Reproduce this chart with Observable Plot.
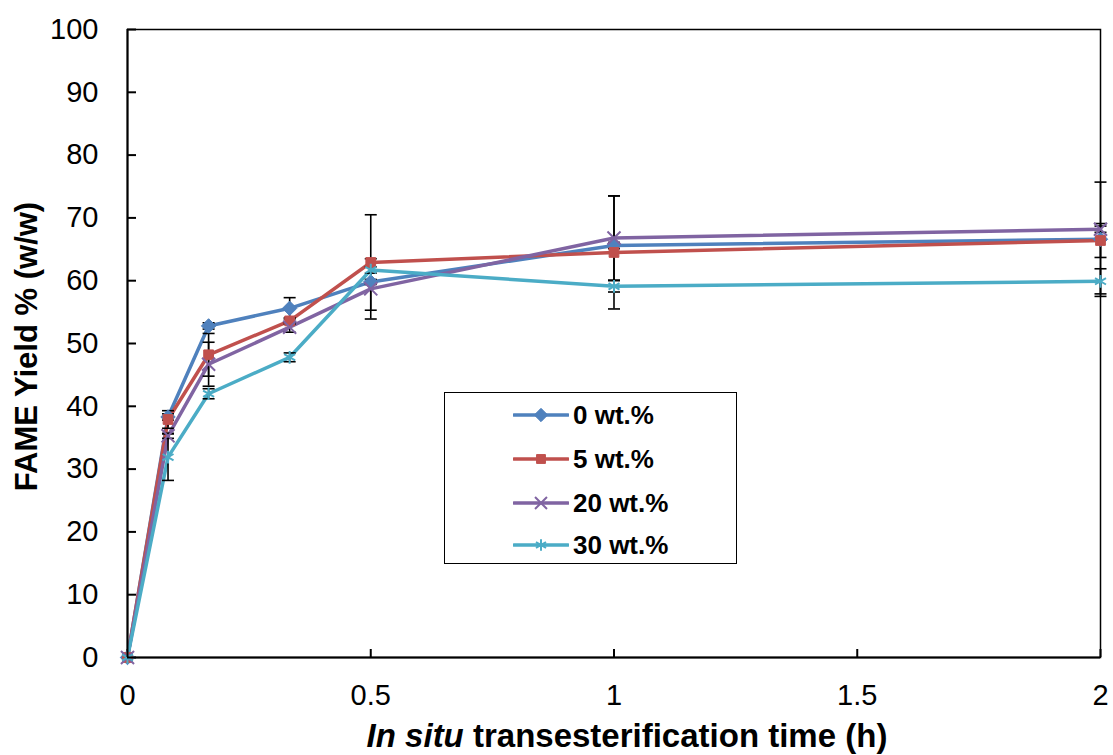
<!DOCTYPE html>
<html><head><meta charset="utf-8">
<script src="https://cdn.jsdelivr.net/npm/d3@7"></script>
<script src="https://cdn.jsdelivr.net/npm/@observablehq/plot@0.6"></script>
<style>
body{margin:0;background:#fff;font-family:"Liberation Sans",Arial,sans-serif;}
#wrap{position:relative;width:1113px;height:755px;overflow:hidden;}
#xtitle{position:absolute;left:0;top:717px;width:1254px;text-align:center;font-weight:bold;font-size:33px;line-height:38px;color:#000;white-space:nowrap;}
#legend{position:absolute;left:444px;top:392px;width:291px;height:170px;border:1.5px solid #000;background:#fff;}
.row{position:absolute;left:68px;height:30px;display:flex;align-items:center;font-weight:bold;font-size:26px;color:#000;white-space:nowrap;}
.row svg{margin-right:4px;}
</style></head><body><div id="wrap"></div>
<script>
const times = [0, 0.0833, 0.1667, 0.3333, 0.5, 1, 2];
const seriesNames = ["0 wt.%", "5 wt.%", "20 wt.%", "30 wt.%"];
const yield0 = [0, 38.3, 52.8, 55.6, 59.8, 65.6, 66.6];
const yield5 = [0, 37.9, 48.2, 53.6, 62.9, 64.5, 66.4];
const yield20 = [0, 35.3, 46.7, 52.6, 58.7, 66.8, 68.2];
const yield30 = [0, 31.9, 42.0, 47.8, 61.7, 59.1, 59.9];
const err0 = [0, 0.5, 0.5, 1.7, 0.4, 0.5, 9.1];
const err5 = [0, 1.4, 3.4, 0.5, 7.6, 9.0, 2.7];
const err20 = [0, 0.4, 3.5, 0.8, 4.8, 6.7, 0.5];
const err30 = [0, 3.7, 0.8, 0.7, 0.5, 0.9, 2.0];
const colors = ["#4F81BD", "#C0504D", "#8064A2", "#4BACC6"];
const symbols = ["diamond2", "square", "times", "asterisk"];
const xTicks = [0, 0.5, 1, 1.5, 2];
const yTicks = [0, 10, 20, 30, 40, 50, 60, 70, 80, 90, 100];
const yTitle = "FAME Yield % (w/w)";

const yields = [yield0, yield5, yield20, yield30];
const errs = [err0, err5, err20, err30];
const rows = [];
seriesNames.forEach((s, i) => times.forEach((t, j) => rows.push({s, i, t, v: yields[i][j], e: errs[i][j]})));

const W = 1113, H = 712, mL = 127, mR = 13, mT = 29, mB = 55;
const capSymbol = {draw(ctx, size) { const r = Math.sqrt(size / Math.PI); ctx.moveTo(-r, 0); ctx.lineTo(r, 0); }};
const markerR = [6.5, 5.5, 6, 6];

const marks = [
  Plot.frame({stroke: "#000", strokeWidth: 1.5}),
  Plot.tickY(yTicks, {y: d => d, insetRight: (W - mL - mR) - 9, strokeWidth: 2, stroke: "#000"}),
  Plot.tickX(xTicks, {x: d => d, insetTop: (H - mT - mB) - 8, strokeWidth: 2, stroke: "#000"}),
  Plot.axisY(yTicks, {tickSize: 0, tickPadding: 29, tickFormat: d => String(d), label: null, fontSize: 29}),
  Plot.axisX(xTicks, {tickSize: 0, tickPadding: 27, tickFormat: d => String(d), label: null, fontSize: 29}),
];
seriesNames.forEach((s, i) => {
  marks.push(Plot.line(rows.filter(d => d.i === i), {x: "t", y: "v", stroke: colors[i], strokeWidth: 3.5}));
});
const eb = rows.filter(d => d.e > 0);
marks.push(Plot.ruleX(eb, {x: "t", y1: d => d.v - d.e, y2: d => d.v + d.e, stroke: "#000", strokeWidth: 1.6}));
marks.push(Plot.dot(eb, {x: "t", y: d => d.v - d.e, symbol: capSymbol, r: 6, stroke: "#000", strokeWidth: 1.6, fill: "none"}));
marks.push(Plot.dot(eb, {x: "t", y: d => d.v + d.e, symbol: capSymbol, r: 6, stroke: "#000", strokeWidth: 1.6, fill: "none"}));
seriesNames.forEach((s, i) => {
  const data = rows.filter(d => d.i === i);
  const stroked = symbols[i] === "times" || symbols[i] === "asterisk";
  marks.push(Plot.dot(data, {x: "t", y: "v", symbol: symbols[i], r: markerR[i],
    fill: stroked ? "none" : colors[i], stroke: colors[i], strokeWidth: stroked ? 2 : 1}));
});
marks.push(Plot.ruleX([0], {stroke: "#000", strokeWidth: 2}));
marks.push(Plot.ruleY([0], {stroke: "#000", strokeWidth: 2}));
marks.push(Plot.text([yTitle], {frameAnchor: "left", dx: -100, dy: 3, rotate: -90, textAnchor: "middle", fontWeight: "bold", fontSize: 31, fill: "#000"}));

const plot = Plot.plot({
  width: W, height: H,
  marginLeft: mL, marginRight: mR, marginTop: mT, marginBottom: mB,
  x: {domain: [0, 2]},
  y: {domain: [0, 100]},
  style: {fontFamily: "'Liberation Sans', Arial, sans-serif", color: "#000", background: "transparent", overflow: "visible"},
  marks
});
const wrap = document.getElementById("wrap");
wrap.appendChild(plot);

const xt = document.createElement("div");
xt.id = "xtitle";
xt.innerHTML = "<i>In situ</i> transesterification time (h)";
wrap.appendChild(xt);

const leg = document.createElement("div");
leg.id = "legend";
const rowTops = [7, 51, 95, 137];
const symMap = {diamond2: d3.symbolDiamond2, square: d3.symbolSquare, times: d3.symbolTimes, asterisk: d3.symbolAsterisk};
seriesNames.forEach((s, i) => {
  const r = document.createElement("div");
  r.className = "row";
  r.style.top = rowTops[i] + "px";
  const svg = d3.create("svg").attr("width", 56).attr("height", 20);
  svg.append("line").attr("x1", 1).attr("x2", 55).attr("y1", 10).attr("y2", 10).attr("stroke", colors[i]).attr("stroke-width", 3.5).attr("stroke-linecap", "round");
  const stroked = symbols[i] === "times" || symbols[i] === "asterisk";
  const rr = markerR[i] - 0.5;
  svg.append("path").attr("transform", "translate(28,10)")
    .attr("d", d3.symbol(symMap[symbols[i]], rr * rr * Math.PI)())
    .attr("fill", stroked ? "none" : colors[i]).attr("stroke", colors[i]).attr("stroke-width", stroked ? 2 : 1);
  r.appendChild(svg.node());
  const sp = document.createElement("span");
  sp.textContent = s;
  r.appendChild(sp);
  leg.appendChild(r);
});
wrap.appendChild(leg);
</script></body></html>
